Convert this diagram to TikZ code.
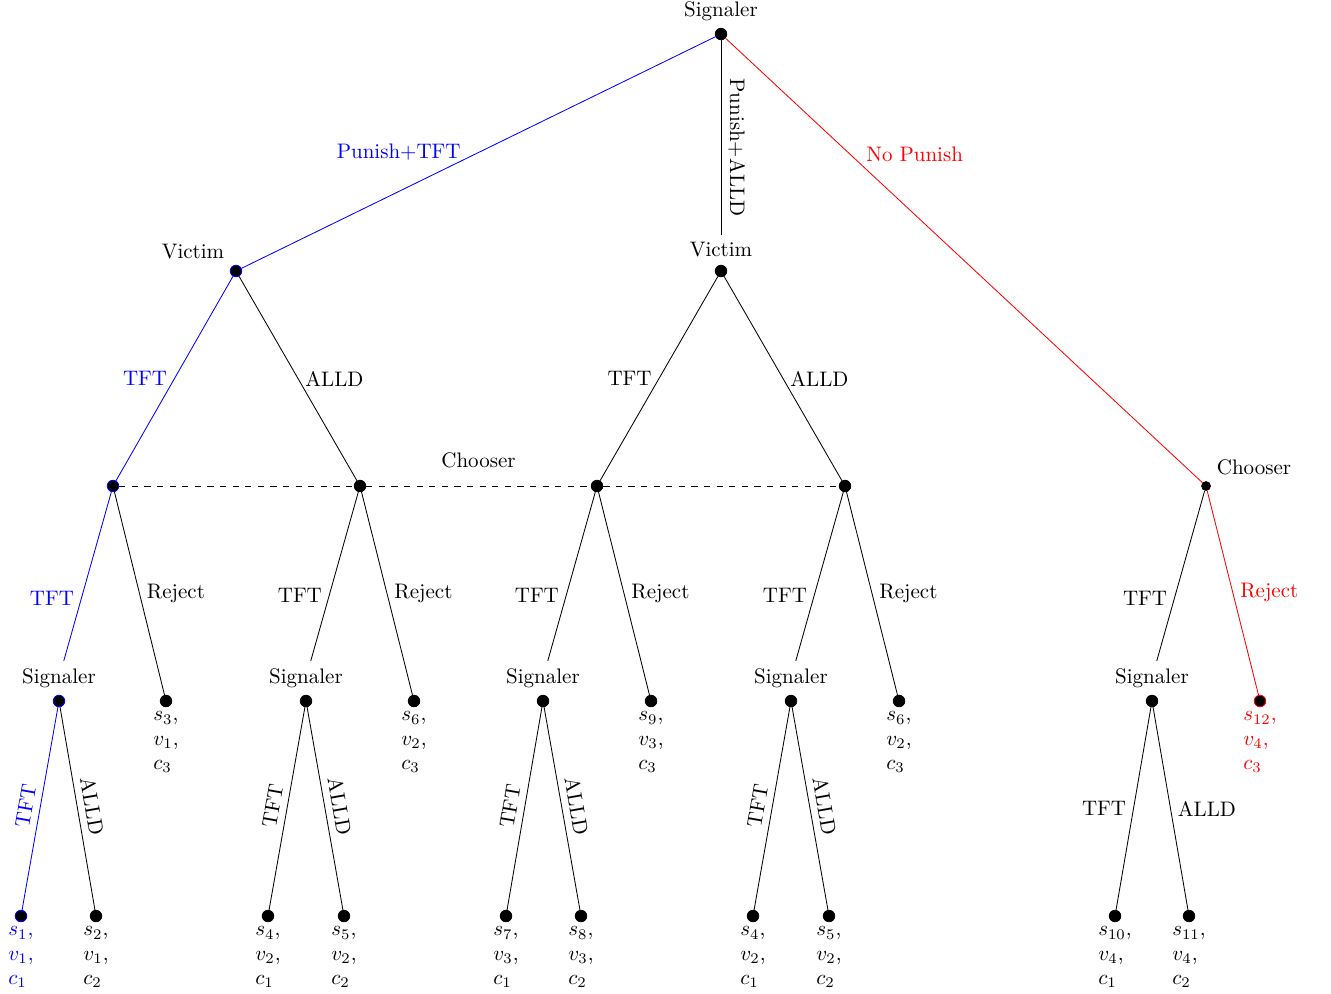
\documentclass[tikz,border=0pt]{standalone}
\usetikzlibrary{positioning,calc}

\begin{document}
\begin{tikzpicture}[x=0.01674cm, y=-0.01674cm, auto]
		\tikzstyle{dot}=[circle,fill=black,draw=black,inner sep=0pt,minimum size=5.5pt]
		\tikzstyle{pay}=[align=left,inner sep=2pt,font=\fontsize{10}{11.5}\selectfont]
		\useasboundingbox (0,0) rectangle (1331,993);
		% decision nodes
		\node[dot]    (sig)  at (721,34)   [label=above:Signaler] {};
		\node[dot,draw=blue] (vicA) at (236,271)  [label=above left:Victim] {};
		\node[dot]    (vicB) at (721,271)  [label={[name=vicBlab]above:Victim}] {};
		\node[dot,draw=blue] (chA) at (113,486) {};
		\node[dot]    (chB)  at (360,486) {};
		\node[dot]    (chC)  at (597,486) {};
		\node[dot]    (chD)  at (845,486) {};
		\node[dot,minimum size=4.2pt] (chE) at (1206,486) [label=above right:Chooser] {};
		\node[dot,draw=blue] (sgA) at (59,701) [label={[name=sgAlab]above:Signaler}] {};
		\node[dot]    (sgB)  at (306,701)  [label={[name=sgBlab]above:Signaler}] {};
		\node[dot]    (sgC)  at (543,701)  [label={[name=sgClab]above:Signaler}] {};
		\node[dot]    (sgD)  at (791,701)  [label={[name=sgDlab]above:Signaler}] {};
		\node[dot]    (sgE)  at (1152,701) [label={[name=sgElab]above:Signaler}] {};
		% outcomes after Reject
		\node[dot]    (rA)   at (166,701)  [label={[pay]below:$s_3$,\\$v_1$,\\$c_3$}] {};
		\node[dot]    (rB)   at (414,701)  [label={[pay]below:$s_6$,\\$v_2$,\\$c_3$}] {};
		\node[dot]    (rC)   at (651,701)  [label={[pay]below:$s_9$,\\$v_3$,\\$c_3$}] {};
		\node[dot]    (rD)   at (899,701)  [label={[pay]below:$s_6$,\\$v_2$,\\$c_3$}] {};
		\node[dot,draw=red] (rE) at (1260,701) [label={[pay,red]below:$s_{12}$,\\$v_4$,\\$c_3$}] {};
		% outcomes after Signaler
		\node[dot,draw=blue] (lA1) at (21,916) [label={[pay,blue]below:$s_1$,\\$v_1$,\\$c_1$}] {};
		\node[dot]    (lA2)  at (96,916)   [label={[pay]below:$s_2$,\\$v_1$,\\$c_2$}] {};
		\node[dot]    (lB1)  at (268,916)  [label={[pay]below:$s_4$,\\$v_2$,\\$c_1$}] {};
		\node[dot]    (lB2)  at (344,916)  [label={[pay]below:$s_5$,\\$v_2$,\\$c_2$}] {};
		\node[dot]    (lC1)  at (506,916)  [label={[pay]below:$s_7$,\\$v_3$,\\$c_1$}] {};
		\node[dot]    (lC2)  at (581,916)  [label={[pay]below:$s_8$,\\$v_3$,\\$c_2$}] {};
		\node[dot]    (lD1)  at (753,916)  [label={[pay]below:$s_4$,\\$v_2$,\\$c_1$}] {};
		\node[dot]    (lD2)  at (829,916)  [label={[pay]below:$s_5$,\\$v_2$,\\$c_2$}] {};
		\node[dot]    (lE1)  at (1115,916) [label={[pay]below:$s_{10}$,\\$v_4$,\\$c_1$}] {};
		\node[dot]    (lE2)  at (1189,916) [label={[pay]below:$s_{11}$,\\$v_4$,\\$c_2$}] {};
		\path
		(sig) edge[blue] node[left=5pt] {Punish+TFT} (vicA)
		(sig) edge node[pos=.55,rotate=-90,anchor=south] {Punish+ALLD} (vicBlab)
		(sig) edge[red] node[pos=.262,right=4pt] {No Punish} (chE)
		(vicA) edge[blue] node[left] {TFT} (chA)
		(vicA) edge node[right] {ALLD} (chB)
		(vicB) edge node[left] {TFT} (chC)
		(vicB) edge node[right] {ALLD} (chD)
		(chA) edge[blue] node[pos=.63,left] {TFT} (sgAlab)
		(chA) edge node[right] {Reject} (rA)
		(chB) edge node[pos=.61,left] {TFT} (sgBlab)
		(chB) edge node[right] {Reject} (rB)
		(chC) edge node[pos=.61,left] {TFT} (sgClab)
		(chC) edge node[right] {Reject} (rC)
		(chD) edge node[pos=.61,left] {TFT} (sgDlab)
		(chD) edge node[right] {Reject} (rD)
		(chE) edge node[pos=.63,left] {TFT} (sgElab)
		(chE) edge[red] node[right] {Reject} (rE)
		(sgA) edge[blue] node[sloped,above] {TFT} (lA1)
		(sgA) edge node[sloped,above] {ALLD} (lA2)
		(sgB) edge node[sloped,above] {TFT} (lB1)
		(sgB) edge node[sloped,above] {ALLD} (lB2)
		(sgC) edge node[sloped,above] {TFT} (lC1)
		(sgC) edge node[sloped,above] {ALLD} (lC2)
		(sgD) edge node[sloped,above] {TFT} (lD1)
		(sgD) edge node[sloped,above] {ALLD} (lD2)
		(sgE) edge node[left] {TFT} (lE1)
		(sgE) edge node[right] {ALLD} (lE2);
		% information set of the Chooser
		\draw[dashed] (chA) -- (chB) -- node[above=5pt] {Chooser} (chC) -- (chD);
	\end{tikzpicture}
\end{document}
